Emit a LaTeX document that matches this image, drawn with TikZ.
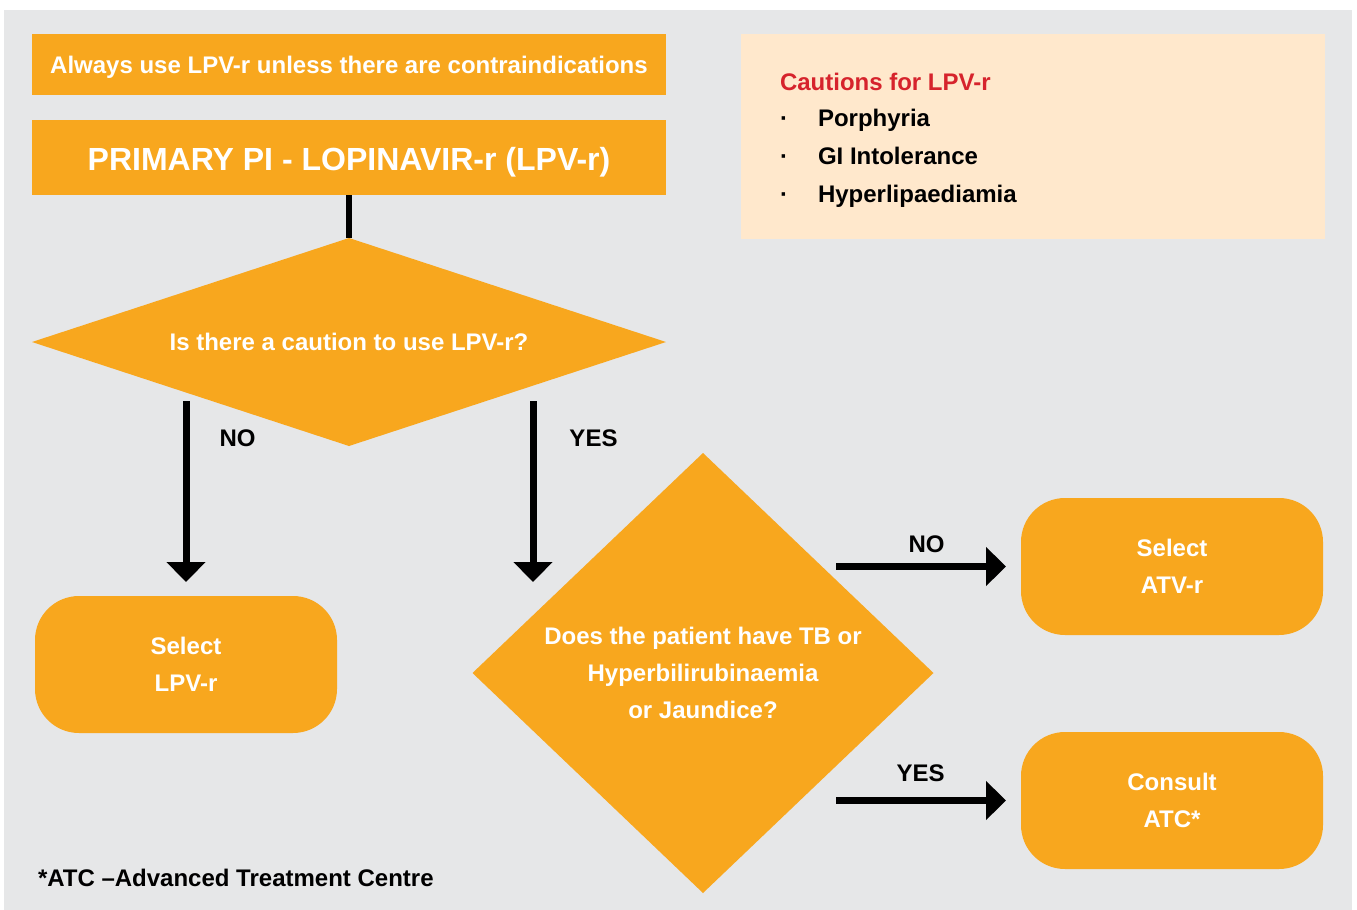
\documentclass[tikz,border=0pt]{standalone}
\usepackage{fontspec}
\setmainfont{Liberation Sans}
\usetikzlibrary{shapes.geometric,arrows.meta}
\definecolor{bg}{HTML}{E6E7E8}
\definecolor{orng}{HTML}{F8A71E}
\definecolor{peach}{HTML}{FFE8CC}
\definecolor{cred}{HTML}{D6232C}
\begin{document}
\begin{tikzpicture}[x=1pt,y=-1pt,
  every node/.style={inner sep=0pt, outer sep=0pt, font=\bfseries\fontsize{24}{36.7}\selectfont},
  box/.style={fill=orng, text=white, minimum width=634pt, text height=18pt, text depth=0pt},
  rbox/.style={fill=orng, text=white, rounded corners=44pt, minimum width=302pt, minimum height=137pt, align=center},
  dia/.style={diamond, fill=orng, text=white, align=center},
  lbl/.style={text=black, anchor=base},
  conn/.style={line width=7pt, -{Triangle[width=38pt,length=20pt]}}
]
\useasboundingbox (0,0) rectangle (1357,910);
\fill[bg] (4,10) rectangle (1352,910);

% top boxes
\node[box, minimum height=61pt] (top) at (349,64.5) {Always use LPV-r unless there are contraindications};
\node[box, minimum height=75pt, text height=25pt, font=\bfseries\fontsize{32}{38}\selectfont] (prim) at (349,157.5) {PRIMARY PI - LOPINAVIR-r (LPV-r)};

% cautions box
\node[fill=peach, minimum width=584pt, minimum height=205pt] (caut) at (1033,136.5) {};
\node[text=cred, anchor=base west] (ctitle) at (780,90) {Cautions for LPV-r};
\node[anchor=base] (b1) at (784,126.5) {·};
\node[anchor=base] (b2) at (784,164.5) {·};
\node[anchor=base] (b3) at (784,202) {·};
\node[anchor=base west] (i1) at (818,126.5) {Porphyria};
\node[anchor=base west] (i2) at (818,164.5) {GI Intolerance};
\node[anchor=base west] (i3) at (818,202) {Hyperlipaediamia};

% diamonds
\node[dia, aspect=3.05, minimum width=634pt, minimum height=208pt] (d1) at (349,342) {Is there a caution to use LPV-r?};
\node[dia, aspect=1.05, minimum width=461pt, minimum height=440pt] (d2) at (703,673) {Does the patient have TB or\\Hyperbilirubinaemia\\or Jaundice?};

% result boxes
\node[rbox] (lpv) at (186,664.5) {Select\\LPV-r};
\node[rbox] (atv) at (1172,566.5) {Select\\ATV-r};
\node[rbox] (atc) at (1172,800.5) {Consult\\ATC*};

% connectors
\draw[line width=6pt] (prim.south) -- (d1.north);
\coordinate (s1) at (186,401);
\coordinate (s2) at (533,401);
\coordinate (e2) at (533,582);
\coordinate (s3) at (836,566.5);
\coordinate (s4) at (836,800.5);
\draw[conn] (s1) -- ([yshift=14pt]lpv.north);
\draw[conn] (s2) -- (e2);
\draw[conn] (s3) -- ([xshift=-15pt]atv.west);
\draw[conn] (s4) -- ([xshift=-15pt]atc.west);

% labels
\node[lbl] (no1) at (237.5,446) {NO};
\node[lbl] (yes1) at (593.5,446) {YES};
\node[lbl] (no2) at (926.5,552.3) {NO};
\node[lbl] (yes2) at (920.5,781.7) {YES};

% footnote
\node[anchor=base west] (foot) at (38,886) {*ATC –Advanced Treatment Centre};
\end{tikzpicture}
\end{document}
